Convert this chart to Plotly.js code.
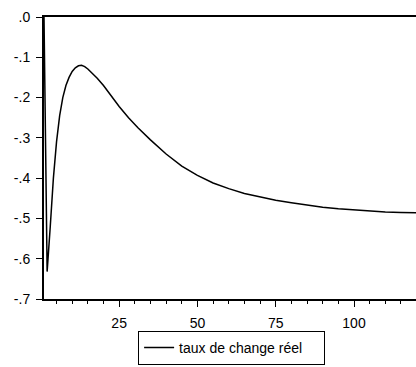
<!DOCTYPE html>
<html>
<head>
<meta charset="utf-8">
<script src="https://cdn.plot.ly/plotly-3.0.1.min.js"></script>
<style>
html,body{margin:0;padding:0;background:#fff;overflow:hidden;}
#chart{width:416px;height:367px;}
</style>
</head>
<body>
<div id="chart"></div>
<script>
// Impulse response: taux de change réel (periods and values)
const periods = [1,2,3,4,5,6,7,8,9,10,11,12,13,14,15,16,18,20,22,25,28,31,35,40,45,50,55,60,65,70,75,80,85,90,95,100,105,110,115,120];
const tauxDeChangeReel = [0,-0.632,-0.52,-0.40,-0.31,-0.245,-0.20,-0.17,-0.15,-0.135,-0.126,-0.121,-0.120,-0.123,-0.129,-0.136,-0.152,-0.170,-0.192,-0.222,-0.250,-0.275,-0.305,-0.340,-0.370,-0.393,-0.412,-0.426,-0.438,-0.447,-0.455,-0.461,-0.467,-0.472,-0.476,-0.479,-0.482,-0.484,-0.485,-0.486];
const seriesName = 'taux de change réel';
const yTickVals = [0,-0.1,-0.2,-0.3,-0.4,-0.5,-0.6,-0.7];
const yTickText = ['.0','-.1','-.2','-.3','-.4','-.5','-.6','-.7'];
const xTickVals = [25,50,75,100];
const xTickText = ['25','50','75','100'];

const font = {family:'"Liberation Sans", Arial, sans-serif', size:14, color:'#000'};

const trace = {
  x: periods,
  y: tauxDeChangeReel,
  type: 'scatter',
  mode: 'lines',
  name: seriesName,
  line: {color:'#000', width:1.5},
  showlegend: true
};

const layout = {
  width: 416,
  height: 367,
  margin: {l:44, r:0, t:17, b:68, autoexpand:false},
  paper_bgcolor:'#fff',
  plot_bgcolor:'#fff',
  font: font,
  showlegend: true,
  xaxis: {
    range: [1, 119.8],
    tickmode: 'array',
    tickvals: xTickVals,
    ticktext: xTickText,
    ticks: 'outside',
    ticklen: 6,
    tickwidth: 1,
    tickcolor: '#000',
    minor: {tickmode:'linear', tick0:0, dtick:5, ticks:'outside', ticklen:3, tickwidth:1, tickcolor:'#000'},
    showline: true,
    linecolor: '#000',
    linewidth: 2,
    mirror: true,
    showgrid: false,
    zeroline: false,
    automargin: false,
    ticklabelstandoff: 4,
    tickfont: {family: font.family, size:14, color:'#000'}
  },
  yaxis: {
    range: [-0.7, 0],
    tickmode: 'array',
    tickvals: yTickVals,
    ticktext: yTickText,
    ticks: 'outside',
    ticklen: 6,
    tickwidth: 1,
    tickcolor: '#000',
    showline: true,
    linecolor: '#000',
    linewidth: 2,
    mirror: false,
    showgrid: false,
    zeroline: false,
    automargin: false,
    ticklabelstandoff: 3,
    tickfont: {family: font.family, size:14, color:'#000'}
  },
  legend: {
    orientation: 'h',
    entrywidth: 140,
    xref: 'container',
    yref: 'container',
    x: 0.332,
    y: 0.006,
    xanchor: 'left',
    yanchor: 'bottom',
    bordercolor: '#000',
    borderwidth: 1,
    bgcolor: '#fff',
    font: {family: font.family, size:14, color:'#000'}
  }
};

Plotly.newPlot('chart', [trace], layout, {staticPlot:true, displayModeBar:false});
</script>
</body>
</html>
